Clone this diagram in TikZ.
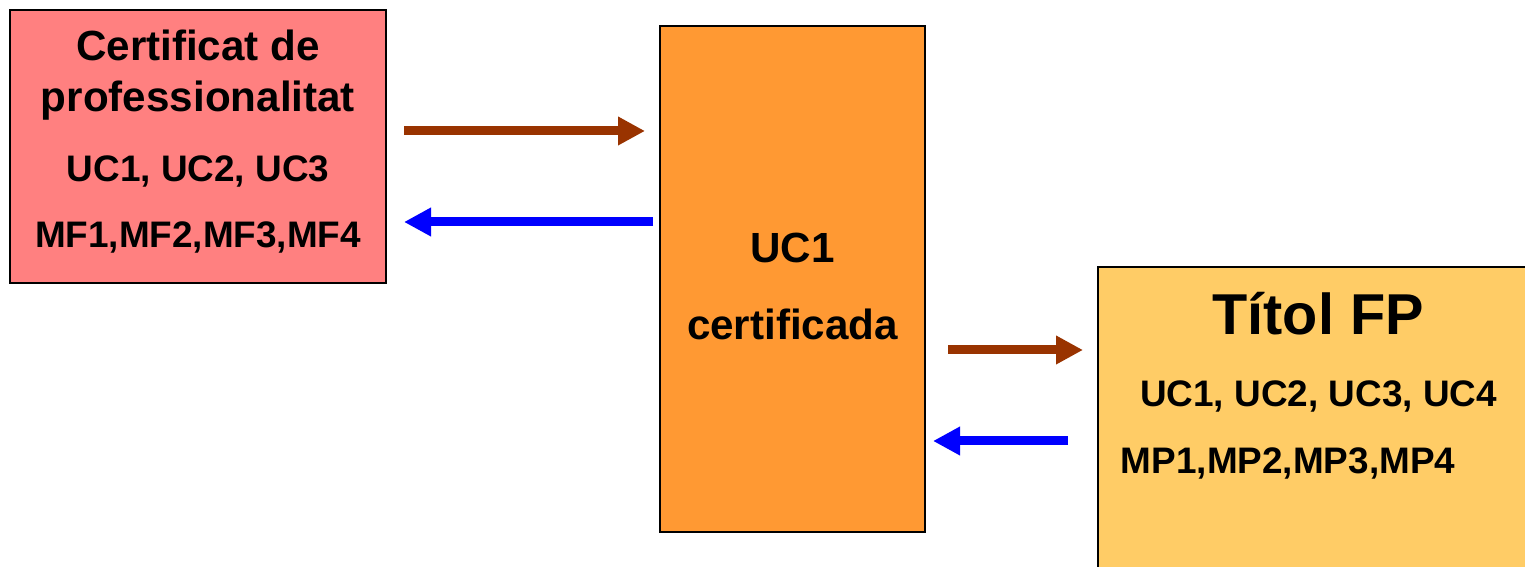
\documentclass[tikz,border=0pt]{standalone}
\usepackage{fontspec}
\setmainfont{Liberation Sans}
\usetikzlibrary{arrows.meta,positioning}

\definecolor{rose}{RGB}{255,128,128}
\definecolor{orange}{RGB}{255,153,51}
\definecolor{jaune}{RGB}{255,204,102}
\definecolor{marron}{RGB}{153,51,0}

\begin{document}
\begin{tikzpicture}[
  cadre/.style={draw=black, line width=0.6pt, inner sep=0pt},
  txt/.style={font=\bfseries\fontsize{10.5}{12}\selectfont, anchor=base, inner sep=0pt},
  grand/.style={font=\bfseries\fontsize{12}{14}\selectfont, anchor=base, inner sep=0pt},
  fleche/.style={line width=0.09cm, -{Triangle[length=0.27cm,width=0.27cm]}}
]
\useasboundingbox (0,0) rectangle (15.25,5.66);

% cadre certificat
\node[cadre, fill=rose, minimum width=3.76cm, minimum height=2.73cm] (cert) at(1.98,4.195) {};
\node[grand] (cert1) at(1.98,5.05) {Certificat de};
\node[grand] (cert2) at(1.98,4.54) {professionalitat};
\node[txt] (certuc) at(1.98,3.84) {UC1, UC2, UC3};
\node[txt] (certmf) at(1.98,3.18) {MF1,MF2,MF3,MF4};

% cadre UC certificada
\node[cadre, fill=orange, minimum width=2.65cm, minimum height=5.06cm] (uc) at(7.925,2.87) {};
\node[grand] (uc1) at(7.925,3.03) {UC1};
\node[grand] (uc2) at(7.925,2.26) {certificada};

% cadre titol (coupe par le bord)
\node[cadre, fill=jaune, minimum width=4.8cm, minimum height=3.6cm] (titol) at(13.38,1.19) {};
\node[font=\bfseries\fontsize{16.4}{19}\selectfont, anchor=base, inner sep=0pt] (titol1) at(13.18,2.31) {Títol FP};
\node[txt] (titoluc) at(13.185,1.59) {UC1, UC2, UC3, UC4};
\node[txt] (titolmp) at(12.88,0.93) {MP1,MP2,MP3,MP4};

% extremites des fleches
\coordinate (a1) at(4.04,4.35);
\coordinate (b1) at(6.45,4.35);
\coordinate (a2) at(6.53,3.44);
\coordinate (b2) at(4.04,3.44);
\coordinate (a3) at(9.48,2.16);
\coordinate (b3) at(10.83,2.16);
\coordinate (a4) at(10.68,1.25);
\coordinate (b4) at(9.33,1.25);

% fleches
\draw[fleche, marron] (a1) -- (b1);
\draw[fleche, blue] (a2) -- (b2);
\draw[fleche, marron] (a3) -- (b3);
\draw[fleche, blue] (a4) -- (b4);

\end{tikzpicture}
\end{document}
